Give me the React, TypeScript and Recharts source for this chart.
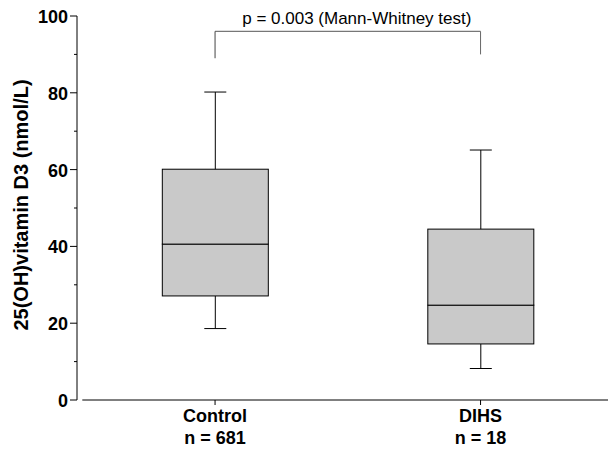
import {
  Bar,
  ComposedChart,
  ReferenceLine,
  XAxis,
  YAxis,
} from 'recharts';

const groups = ['Control', 'DIHS'];
const groupSizes = [681, 18];
const positions = [1, 2];
const mins = [18.6, 8.2];
const lowerQuartiles = [27.1, 14.6];
const medians = [40.6, 24.7];
const upperQuartiles = [60.1, 44.5];
const maxes = [80.2, 65.1];

const yTicks = [0, 10, 20, 30, 40, 50, 60, 70, 80, 90, 100];
const pValueText = 'p = 0.003 (Mann-Whitney test)';

const FONT = '"Liberation Sans", Arial, Helvetica, sans-serif';
const BOX_FILL = '#c9c9c9';
const CAP_WIDTH = 22;

const rows = groups.map((name, i) => ({
  name,
  n: groupSizes[i],
  pos: positions[i],
  base: mins[i],
  lowWhisker: lowerQuartiles[i] - mins[i],
  lowBox: medians[i] - lowerQuartiles[i],
  highBox: upperQuartiles[i] - medians[i],
  highWhisker: maxes[i] - upperQuartiles[i],
}));

function Empty() {
  return <g />;
}

function Whisker(capAtTop: boolean) {
  return (props: any) => {
    const { x, y, width, height } = props;
    const cx = x + width / 2;
    const capY = capAtTop ? y : y + height;
    return (
      <g>
        <line x1={cx} y1={y} x2={cx} y2={y + height} stroke="#000" strokeWidth={1} />
        <line
          x1={cx - CAP_WIDTH / 2}
          y1={capY}
          x2={cx + CAP_WIDTH / 2}
          y2={capY}
          stroke="#000"
          strokeWidth={1}
        />
      </g>
    );
  };
}

function BoxPart(props: any) {
  const { x, y, width, height } = props;
  return (
    <rect
      x={x}
      y={y}
      width={width}
      height={height}
      fill={BOX_FILL}
      stroke="#000"
      strokeWidth={1}
    />
  );
}

function YTick(props: any) {
  const { x, y, payload } = props;
  const major = payload.value % 20 === 0;
  return (
    <g>
      <line x1={x - (major ? 7 : 3)} y1={y} x2={x} y2={y} stroke="#000" strokeWidth={1} />
      {major ? (
        <text
          x={x - 9}
          y={y + 7}
          textAnchor="end"
          fontFamily={FONT}
          fontSize={18}
          fontWeight={700}
          fill="#000"
        >
          {payload.value}
        </text>
      ) : null}
    </g>
  );
}

function XTick(props: any) {
  const { x, y, payload } = props;
  const row = rows.find((r) => r.pos === payload.value);
  if (!row) return <g />;
  return (
    <g fontFamily={FONT} fontSize={18} fontWeight={700} fill="#000">
      <text x={x} y={y + 17} textAnchor="middle">
        {row.name}
      </text>
      <text x={x} y={y + 39} textAnchor="middle">
        {`n = ${row.n}`}
      </text>
    </g>
  );
}

function PValueLabel(props: any) {
  const { viewBox } = props;
  if (!viewBox) return null;
  return (
    <text
      x={viewBox.x + viewBox.width / 2 + 9}
      y={viewBox.y - 7}
      textAnchor="middle"
      fontFamily={FONT}
      fontSize={17}
      fill="#000"
    >
      {pValueText}
    </text>
  );
}

function YTitle() {
  return (
    <text
      x={21}
      y={205}
      transform="rotate(-90 21 205)"
      textAnchor="middle"
      dominantBaseline="central"
      fontFamily={FONT}
      fontSize={20}
      fontWeight={700}
      fill="#000"
    >
      25(OH)vitamin D3 (nmol/L)
    </text>
  );
}

export default function App() {
  return (
    <div style={{ position: 'absolute', left: 0, top: 0, width: 610, height: 450, background: '#fff' }}>
      <ComposedChart
        width={610}
        height={450}
        data={rows}
        margin={{ top: 16, right: 2, bottom: 0, left: 0 }}
        barSize={106}
      >
        <XAxis
          dataKey="pos"
          type="number"
          domain={[0.48, 2.48]}
          ticks={positions}
          allowDataOverflow
          axisLine={false}
          tickLine={{ stroke: '#000' }}
          tickSize={5}
          tickMargin={0}
          height={50}
          tick={<XTick />}
          interval={0}
        />
        <YAxis
          domain={[0, 100]}
          ticks={yTicks}
          interval={0}
          width={77}
          tickSize={0}
          tickMargin={0}
          tickLine={false}
          axisLine={{ stroke: '#000' }}
          tick={<YTick />}
          label={{ content: () => <YTitle /> }}
        />
        <ReferenceLine
          segment={[{ x: 0.5, y: 0 }, { x: 2.48, y: 0 }]}
          stroke="#000"
          strokeWidth={1}
          ifOverflow="visible"
        />
        <Bar dataKey="base" stackId="box" shape={<Empty />} isAnimationActive={false} />
        <Bar dataKey="lowWhisker" stackId="box" shape={Whisker(false)} isAnimationActive={false} />
        <Bar dataKey="lowBox" stackId="box" shape={BoxPart} isAnimationActive={false} />
        <Bar dataKey="highBox" stackId="box" shape={BoxPart} isAnimationActive={false} />
        <Bar dataKey="highWhisker" stackId="box" shape={Whisker(true)} isAnimationActive={false} />
        <ReferenceLine
          segment={[{ x: 1, y: 96 }, { x: 2, y: 96 }]}
          stroke="#777"
          strokeWidth={1.3}
          ifOverflow="visible"
          label={<PValueLabel />}
        />
        <ReferenceLine
          segment={[{ x: 1, y: 96 }, { x: 1, y: 89 }]}
          stroke="#444"
          strokeWidth={1}
          ifOverflow="visible"
        />
        <ReferenceLine
          segment={[{ x: 2, y: 96 }, { x: 2, y: 90 }]}
          stroke="#666"
          strokeWidth={1}
          ifOverflow="visible"
        />
      </ComposedChart>
    </div>
  );
}
